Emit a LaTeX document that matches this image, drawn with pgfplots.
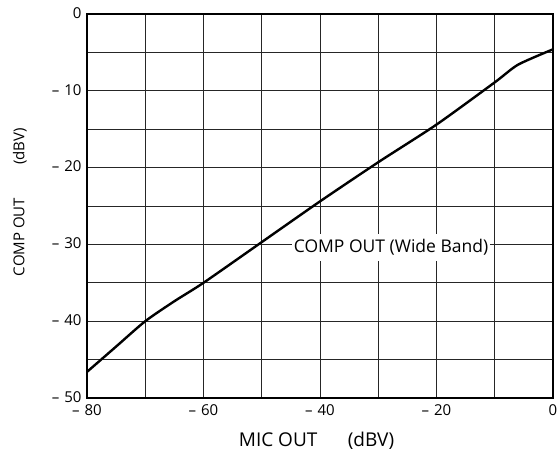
\documentclass[border=0pt]{standalone}
\usepackage{fontspec}
\setmainfont{Open Sans}
\usepackage{pgfplots}
\pgfplotsset{compat=1.18}

\begin{document}
\begin{tikzpicture}
\path[use as bounding box] (-87pt,-67pt) rectangle (470pt,398pt);
\begin{axis}[
    at={(0,0)}, anchor=south west,
    scale only axis,
    width=466pt, height=384pt,
    xmin=-80, xmax=0, ymin=-50, ymax=0,
    xtick={-80,-70,...,0},
    ytick={-50,-45,...,0},
    xticklabels={\textendash\,\,80,,\textendash\,\,60,,\textendash\,\,40,,\textendash\,\,20,,0},
    yticklabels={\textendash\,\,50,,\textendash\,\,40,,\textendash\,\,30,,\textendash\,\,20,,\textendash\,\,10,,0},
    major tick length=0pt,
    grid=major,
    grid style={line width=0.9pt, black!85},
    axis line style={line width=1.5pt},
    ticklabel style={font=\fontsize{15}{17}\selectfont},
    xticklabel style={yshift=-3pt},
    yticklabel style={xshift=-2pt, yshift=1pt},
    xlabel={MIC OUT\hspace{1.6em}(dBV)},
    ylabel={COMP OUT\hspace{2.2em}(dBV)},
    xlabel style={font=\fontsize{19}{22}\selectfont,
        at={(axis description cs:0.4925,-0.112)}, anchor=center},
    ylabel style={font=\fontsize{15}{17}\selectfont,
        at={(axis description cs:-0.144,0.51)}, anchor=center},
    clip=false,
]
\addplot[line width=2.4pt, black, smooth, tension=0.4] coordinates {
    (-80,-46.6) (-75,-43.3) (-70,-40) (-65,-37.4) (-60,-35)
    (-50,-29.7) (-40,-24.4) (-30,-19.3) (-20,-14.4) (-10,-8.9)
    (-6,-6.6) (0,-4.6)
};
\node[fill=white, inner xsep=2pt, inner ysep=5pt,
      font=\fontsize{17.5}{20}\selectfont]
    at (axis cs:-27.8,-30.4) {COMP OUT (Wide Band)};
\end{axis}
\end{tikzpicture}
\end{document}
